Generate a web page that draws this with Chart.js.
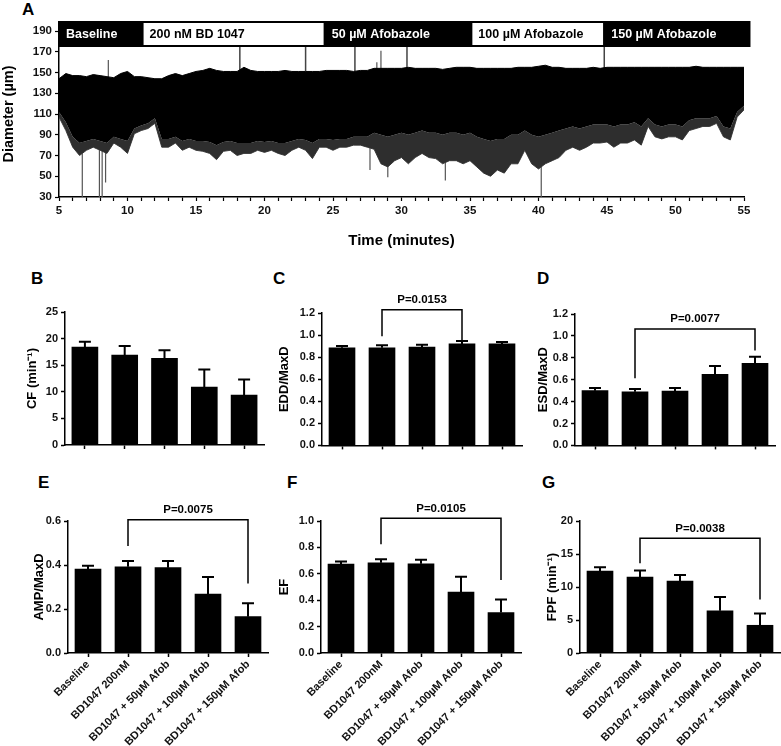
<!DOCTYPE html>
<html>
<head>
<meta charset="utf-8">
<script src="https://cdn.jsdelivr.net/npm/chart.js@4.4.1/dist/chart.umd.min.js"></script>
<style>
  body { margin: 0; background: #fff; width: 781px; height: 746px; position: relative; overflow: hidden;
         font-family: "Liberation Sans", Arial, sans-serif; }
  canvas { position: absolute; }
  .panel { position: absolute; font-weight: bold; font-size: 17px; line-height: 1; color: #000; }
</style>
</head>
<body>
<div class="panel" style="left:22px;top:1px">A</div>
<div class="panel" style="left:31px;top:270px">B</div>
<div class="panel" style="left:273px;top:270px">C</div>
<div class="panel" style="left:537px;top:270px">D</div>
<div class="panel" style="left:38px;top:474px">E</div>
<div class="panel" style="left:287px;top:474px">F</div>
<div class="panel" style="left:542px;top:474px">G</div>

<canvas id="chartA" width="781" height="255" style="left:0;top:0"></canvas>
<canvas id="chartB" width="275" height="185" style="left:0;top:270px"></canvas>
<canvas id="chartC" width="275" height="185" style="left:255px;top:270px"></canvas>
<canvas id="chartD" width="266" height="185" style="left:515px;top:270px"></canvas>
<canvas id="chartE" width="275" height="296" style="left:0;top:450px"></canvas>
<canvas id="chartF" width="275" height="296" style="left:255px;top:450px"></canvas>
<canvas id="chartG" width="266" height="296" style="left:515px;top:450px"></canvas>

<script>
// ---- panel A: diameter trace (envelope, every 0.5 min) ----
const traceTimes = [5, 5.5, 6, 6.5, 7, 7.5, 8, 8.5, 9, 9.5, 10, 10.5, 11, 11.5, 12, 12.5, 13, 13.5, 14, 14.5,
  15, 15.5, 16, 16.5, 17, 17.5, 18, 18.5, 19, 19.5, 20, 20.5, 21, 21.5, 22, 22.5, 23, 23.5, 24, 24.5,
  25, 25.5, 26, 26.5, 27, 27.5, 28, 28.5, 29, 29.5, 30, 30.5, 31, 31.5, 32, 32.5, 33, 33.5, 34, 34.5,
  35, 35.5, 36, 36.5, 37, 37.5, 38, 38.5, 39, 39.5, 40, 40.5, 41, 41.5, 42, 42.5, 43, 43.5, 44, 44.5,
  45, 45.5, 46, 46.5, 47, 47.5, 48, 48.5, 49, 49.5, 50, 50.5, 51, 51.5, 52, 52.5, 53, 53.5, 54, 54.5, 55];
const traceTop = [144, 149, 147, 147, 146, 148, 147, 146, 145, 149,
  151, 146, 146, 145, 144, 144, 147, 149, 147, 149,
  151, 152, 154, 152, 151, 151, 151, 155, 152, 151,
  151, 151, 151, 152, 151, 151, 151, 151, 151, 152,
  152, 152, 152, 151, 152, 152, 154, 154, 154, 154,
  154, 155, 154, 154, 154, 154, 153, 154, 155, 155,
  155, 154, 154, 154, 154, 154, 154, 155, 155, 155,
  156, 157, 155, 155, 154, 154, 154, 154, 155, 154,
  155, 155, 155, 155, 155, 155, 155, 155, 155, 155,
  155, 155, 155, 156, 155, 155, 155, 155, 155, 155, 155];
const traceCore = [112, 102, 88, 82, 84, 86, 84, 82, 88, 86,
  84, 96, 99, 101, 106, 86, 86, 88, 84, 86,
  84, 84, 83, 80, 83, 84, 82, 82, 82, 84,
  83, 84, 82, 82, 84, 86, 85, 82, 86, 86,
  85, 86, 86, 88, 88, 88, 92, 90, 88, 90,
  92, 90, 92, 94, 92, 92, 90, 92, 92, 90,
  92, 88, 86, 84, 86, 86, 90, 90, 94, 90,
  88, 90, 92, 94, 96, 98, 96, 98, 100, 100,
  100, 98, 100, 100, 102, 98, 106, 100, 98, 100,
  100, 98, 104, 106, 106, 106, 108, 98, 96, 112, 118];
const traceBottom = [107, 94, 78, 70, 75, 78, 75, 72, 82, 78,
  72, 91, 94, 96, 101, 78, 78, 82, 75, 78,
  75, 74, 72, 66, 74, 75, 70, 72, 72, 75,
  73, 75, 72, 70, 75, 78, 75, 67, 78, 78,
  75, 78, 78, 80, 80, 78, 76, 62, 59, 65,
  68, 62, 68, 72, 68, 67, 62, 65, 65, 62,
  65, 59, 53, 50, 56, 53, 62, 62, 75, 62,
  57, 62, 65, 68, 75, 78, 75, 78, 82, 82,
  83, 78, 82, 82, 85, 80, 98, 88, 86, 88,
  88, 85, 94, 96, 98, 98, 101, 88, 85, 107, 114];

// single excursions sticking out of the envelope
const spikeTimes = [6.7, 7.95, 8.15, 8.4, 8.6, 27.7, 28.2, 28.5, 29.0, 33.2, 40.2];
const spikeFrom = [85, 80, 80, 80, 145, 80, 150, 152, 70, 70, 65];
const spikeTo = [30, 30, 30, 44, 162, 56, 160, 171, 49, 46, 30];

// event markers hanging from the treatment band
const markerTimes = [18.2, 23.0, 26.6, 30.4, 44.8];
const markerFrom = 176;
const markerTo = 151;

// treatment band
const phaseNames = ["Baseline", "200 nM BD 1047", "50 µM Afobazole", "100 µM Afobazole", "150 µM Afobazole"];
const phaseStart = [5, 11.1, 24.4, 35.1, 44.8];
const phaseEnd = [11.1, 24.4, 35.1, 44.8, 55.4];
const phaseDark = [true, false, true, false, true];

// ---- panels B-G: means and SEM ----
const groups = ["Baseline", "BD1047 200nM", "BD1047 + 50µM Afob", "BD1047 + 100µM Afob", "BD1047 + 150µM Afob"];
const cfMean = [18.4, 16.9, 16.3, 10.9, 9.4];
const cfSem = [1.0, 1.7, 1.5, 3.3, 2.9];
const eddMean = [0.884, 0.884, 0.89, 0.92, 0.92];
const eddSem = [0.016, 0.023, 0.023, 0.026, 0.017];
const esdMean = [0.50, 0.49, 0.497, 0.648, 0.75];
const esdSem = [0.024, 0.025, 0.027, 0.078, 0.06];
const ampMean = [0.382, 0.392, 0.388, 0.268, 0.165];
const ampSem = [0.015, 0.026, 0.03, 0.078, 0.061];
const efMean = [0.673, 0.683, 0.676, 0.462, 0.307];
const efSem = [0.02, 0.028, 0.03, 0.116, 0.098];
const fpfMean = [12.4, 11.5, 10.9, 6.4, 4.2];
const fpfSem = [0.6, 1.0, 0.9, 2.1, 1.8];

// comparisons: groups joined, height of the bar, where each leg stops
const eddCompare = { label: "P=0.0153", span: [1, 3], level: 1.23, legs: [0.99, 0.95] };
const esdCompare = { label: "P=0.0077", span: [1, 4], level: 1.063, legs: [0.614, 0.867] };
const ampCompare = { label: "P=0.0075", span: [1, 4], level: 0.606, legs: [0.486, 0.316] };
const efCompare = { label: "P=0.0105", span: [1, 4], level: 1.02, legs: [0.824, 0.553] };
const fpfCompare = { label: "P=0.0038", span: [1, 4], level: 17.4, legs: [13.6, 8.1] };

Chart.defaults.font.family = '"Liberation Sans", Arial, sans-serif';
Chart.defaults.font.weight = "bold";
Chart.defaults.color = "#111";
Chart.defaults.animation = false;
Chart.defaults.plugins.legend.display = false;
Chart.defaults.plugins.tooltip.enabled = false;

const xy = (xs, ys) => xs.map((x, i) => ({ x, y: ys[i] }));
const segments = (xs, from, to) =>
  xs.flatMap((x, i) => [
    { x, y: Array.isArray(from) ? from[i] : from },
    { x, y: Array.isArray(to) ? to[i] : to },
    { x, y: null },
  ]);

const bandPlugin = {
  id: "band",
  afterDatasetsDraw(chart) {
    const { ctx, chartArea, scales } = chart;
    const top = chartArea.top - 9;
    const h = 24;
    ctx.save();
    ctx.font = 'bold 12.5px "Liberation Sans", Arial, sans-serif';
    ctx.textBaseline = "middle";
    phaseNames.forEach((name, i) => {
      const x0 = scales.x.getPixelForValue(phaseStart[i]);
      const x1 = scales.x.getPixelForValue(phaseEnd[i]);
      ctx.fillStyle = phaseDark[i] ? "#000" : "#fff";
      ctx.fillRect(x0, top, x1 - x0, h);
      ctx.strokeStyle = "#000";
      ctx.lineWidth = 2;
      ctx.strokeRect(x0, top, x1 - x0, h);
      ctx.fillStyle = phaseDark[i] ? "#fff" : "#000";
      ctx.fillText(name, x0 + 7, top + h / 2 + 1);
    });
    ctx.restore();
  },
};

new Chart(document.getElementById("chartA"), {
  type: "line",
  data: {
    datasets: [
      { data: xy(traceTimes, traceTop), borderColor: "#000", borderWidth: 1, pointRadius: 0,
        fill: "+1", backgroundColor: "#000" },
      { data: xy(traceTimes, traceCore), borderWidth: 0, pointRadius: 0,
        fill: "+1", backgroundColor: "#2e2e2e" },
      { data: xy(traceTimes, traceBottom), borderColor: "#4a4a4a", borderWidth: 1, pointRadius: 0, fill: false },
      { data: segments(spikeTimes, spikeFrom, spikeTo), borderColor: "#555", borderWidth: 1.2,
        pointRadius: 0, fill: false, spanGaps: false },
      { data: segments(markerTimes, markerFrom, markerTo), borderColor: "#444", borderWidth: 1.5,
        pointRadius: 0, fill: false, spanGaps: false },
    ],
  },
  options: {
    responsive: false,
    layout: { padding: { left: 0, top: 31, right: 37, bottom: 5 } },
    elements: { line: { tension: 0 } },
    scales: {
      x: {
        type: "linear", min: 5, max: 55,
        ticks: { stepSize: 1, autoSkip: false, maxRotation: 0, font: { size: 11.5 }, color: "#111", padding: 3,
                 callback: (v) => (v % 5 === 0 ? v : "") },
        grid: { drawOnChartArea: false, tickLength: 4, tickColor: "#000", tickWidth: 1.2 },
        border: { color: "#000", width: 1.5 },
        title: { display: true, text: "Time (minutes)", font: { size: 15, weight: "bold" }, color: "#000", padding: 0 },
        afterFit: (s) => { s.height = 53; },
      },
      y: {
        min: 30, max: 190,
        ticks: { stepSize: 20, font: { size: 11.5 }, color: "#111", padding: 3 },
        grid: { drawOnChartArea: false, tickLength: 4, tickColor: "#000", tickWidth: 1.2 },
        border: { color: "#000", width: 1.5 },
        title: { display: true, text: "Diameter (µm)", font: { size: 14.5, weight: "bold" }, color: "#000", padding: 0 },
        afterFit: (s) => { s.width = 59; },
      },
    },
  },
  plugins: [bandPlugin],
});

const errorBarPlugin = {
  id: "errorBars",
  afterDatasetsDraw(chart) {
    const ds = chart.data.datasets[0];
    const meta = chart.getDatasetMeta(0);
    const y = chart.scales.y;
    const ctx = chart.ctx;
    ctx.save();
    ctx.strokeStyle = "#000";
    ctx.lineWidth = 2;
    meta.data.forEach((bar, i) => {
      const top = y.getPixelForValue(ds.data[i] + ds.sem[i]);
      ctx.beginPath();
      ctx.moveTo(bar.x, bar.y);
      ctx.lineTo(bar.x, top);
      ctx.moveTo(bar.x - 6, top);
      ctx.lineTo(bar.x + 6, top);
      ctx.stroke();
    });
    ctx.restore();
  },
};

const bracketPlugin = {
  id: "bracket",
  afterDatasetsDraw(chart, args, opts) {
    const cmp = opts.compare;
    if (!cmp) return;
    const { ctx, scales } = chart;
    const xa = scales.x.getPixelForValue(cmp.span[0]);
    const xb = scales.x.getPixelForValue(cmp.span[1]);
    const yl = scales.y.getPixelForValue(cmp.level);
    ctx.save();
    ctx.strokeStyle = "#000";
    ctx.lineWidth = 1.5;
    ctx.beginPath();
    ctx.moveTo(xa, scales.y.getPixelForValue(cmp.legs[0]));
    ctx.lineTo(xa, yl);
    ctx.lineTo(xb, yl);
    ctx.lineTo(xb, scales.y.getPixelForValue(cmp.legs[1]));
    ctx.stroke();
    ctx.fillStyle = "#000";
    ctx.font = 'bold 11.5px "Liberation Sans", Arial, sans-serif';
    ctx.textAlign = "center";
    ctx.textBaseline = "bottom";
    ctx.fillText(cmp.label, (xa + xb) / 2, yl - 4);
    ctx.restore();
  },
};

function barPanel(id, o) {
  return new Chart(document.getElementById(id), {
    type: "bar",
    data: {
      labels: groups,
      datasets: [{ data: o.mean, sem: o.sem, backgroundColor: "#000", borderWidth: 0, barThickness: 26 }],
    },
    options: {
      responsive: false,
      layout: { padding: { left: o.padLeft, top: o.padTop, right: o.padRight, bottom: 0 } },
      scales: {
        x: {
          grid: { drawOnChartArea: false, offset: false, tickLength: 4, tickColor: "#000", tickWidth: 1.5 },
          border: { color: "#000", width: 1.5 },
          ticks: { display: o.labels, autoSkip: false, maxRotation: 45, minRotation: 45,
                   font: { size: 11 }, color: "#111", padding: 1 },
          afterFit: (s) => { s.height = o.xHeight; },
        },
        y: {
          min: 0, max: o.max,
          ticks: { stepSize: o.step, font: { size: 11 }, color: "#111", padding: 3,
                   callback: (v) => (o.decimals ? v.toFixed(1) : v) },
          grid: { drawOnChartArea: false, tickLength: 4, tickColor: "#000", tickWidth: 1.5 },
          border: { color: "#000", width: 1.5 },
          title: { display: true, text: o.title, font: { size: 13, weight: "bold" }, color: "#000", padding: 0 },
          afterFit: (s) => { s.width = o.yWidth; },
        },
      },
      plugins: { bracket: { compare: o.compare } },
    },
    plugins: [errorBarPlugin, bracketPlugin],
  });
}

barPanel("chartB", { mean: cfMean, sem: cfSem, max: 25, step: 5, title: "CF (min⁻¹)",
  padLeft: 24.2, yWidth: 40.8, padRight: 11, padTop: 42, xHeight: 10, labels: false });
barPanel("chartC", { mean: eddMean, sem: eddSem, max: 1.2, step: 0.2, decimals: true, title: "EDD/MaxD",
  padLeft: 21.2, yWidth: 45.8, padRight: 8, padTop: 43, xHeight: 8, labels: false, compare: eddCompare });
barPanel("chartD", { mean: esdMean, sem: esdSem, max: 1.2, step: 0.2, decimals: true, title: "ESD/MaxD",
  padLeft: 20.2, yWidth: 39.8, padRight: 6, padTop: 44, xHeight: 8, labels: false, compare: esdCompare });
barPanel("chartE", { mean: ampMean, sem: ampSem, max: 0.6, step: 0.2, decimals: true, title: "AMP/MaxD",
  padLeft: 31.2, yWidth: 36.8, padRight: 7, padTop: 71, xHeight: 93, labels: true, compare: ampCompare });
barPanel("chartF", { mean: efMean, sem: efSem, max: 1.0, step: 0.2, decimals: true, title: "EF",
  padLeft: 21.2, yWidth: 44.8, padRight: 9, padTop: 71, xHeight: 93, labels: true, compare: efCompare });
barPanel("chartG", { mean: fpfMean, sem: fpfSem, max: 20, step: 5, title: "FPF (min⁻¹)",
  padLeft: 29.2, yWidth: 35.8, padRight: 1, padTop: 71, xHeight: 93, labels: true, compare: fpfCompare });
</script>
</body>
</html>
